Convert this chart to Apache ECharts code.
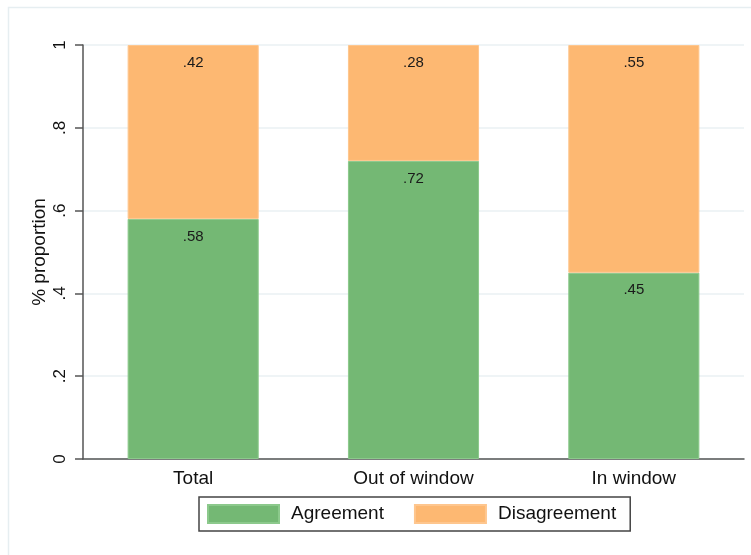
<!DOCTYPE html>
<html>
<head>
<meta charset="utf-8">
<script src="https://cdn.jsdelivr.net/npm/echarts@6/dist/echarts.min.js"></script>
<style>
  html, body { margin: 0; padding: 0; background: #fff; }
  #chart { width: 751px; height: 555px; }
</style>
</head>
<body>
<div id="chart"></div>
<script>
// categories and shares
const categories = ['Total', 'Out of window', 'In window'];
const agreement = [0.58, 0.72, 0.45];
const disagreement = [0.42, 0.28, 0.55];
const yTicks = [0, 0.2, 0.4, 0.6, 0.8, 1];

// stata style: drop the leading zero
const fmt = (v) => {
  if (v === 0) return '0';
  if (v === 1) return '1';
  return String(+v.toFixed(2)).replace(/^0/, '');
};

const chart = echarts.init(document.getElementById('chart'));

const labelStyle = {
  show: true,
  position: 'insideTop',
  distance: 10,
  color: '#1a1a1a',
  fontSize: 15,
  fontFamily: 'Liberation Sans, Arial, sans-serif',
  formatter: (p) => fmt(p.value)
};

chart.setOption({
  animation: false,
  textStyle: { fontFamily: 'Liberation Sans, Arial, sans-serif' },
  graphic: [
    {
      type: 'rect',
      shape: { x: 8.5, y: 7.5, width: 760, height: 560 },
      style: { fill: 'none', stroke: '#e6eef1', lineWidth: 1.5 },
      silent: true
    }
  ],
  grid: { left: 83, right: 7, top: 45, bottom: 96 },
  legend: {
    left: 199,
    top: 497,
    orient: 'horizontal',
    icon: 'rect',
    itemWidth: 71,
    itemHeight: 18,
    itemGap: 30,
    padding: [7, 14, 7, 8],
    borderColor: '#444',
    borderWidth: 1.5,
    borderRadius: 0,
    textStyle: { fontSize: 19, color: '#111', padding: [0, 0, 0, 7] },
    data: ['Agreement', 'Disagreement']
  },
  xAxis: {
    type: 'category',
    data: categories,
    axisLine: { lineStyle: { color: '#555', width: 1.5 } },
    axisTick: { show: false },
    axisLabel: { fontSize: 19, color: '#111', margin: 10 },
    splitLine: { show: false }
  },
  yAxis: {
    type: 'value',
    min: 0,
    max: 1,
    interval: 0.2,
    name: '% proportion',
    nameLocation: 'middle',
    nameRotate: 90,
    nameGap: 34,
    nameMoveOverlap: false,
    nameTextStyle: { fontSize: 19, color: '#111' },
    axisLine: { show: true, lineStyle: { color: '#555', width: 1.5 } },
    axisTick: { show: true, length: 8, lineStyle: { color: '#555', width: 1.5 } },
    axisLabel: {
      rotate: 90,
      fontSize: 17,
      color: '#111',
      margin: 14,
      formatter: (v) => fmt(v)
    },
    splitLine: { show: true, lineStyle: { color: '#eaf1f3', width: 1.5 } }
  },
  series: [
    {
      name: 'Agreement',
      type: 'bar',
      stack: 'share',
      data: agreement,
      barCategoryGap: '40.5%',
      itemStyle: { color: '#74b874', borderColor: '#8cc98c', borderWidth: 1 },
      label: labelStyle
    },
    {
      name: 'Disagreement',
      type: 'bar',
      stack: 'share',
      data: disagreement,
      itemStyle: { color: '#fdb872', borderColor: '#fec68e', borderWidth: 1 },
      label: labelStyle
    }
  ]
});
</script>
</body>
</html>
